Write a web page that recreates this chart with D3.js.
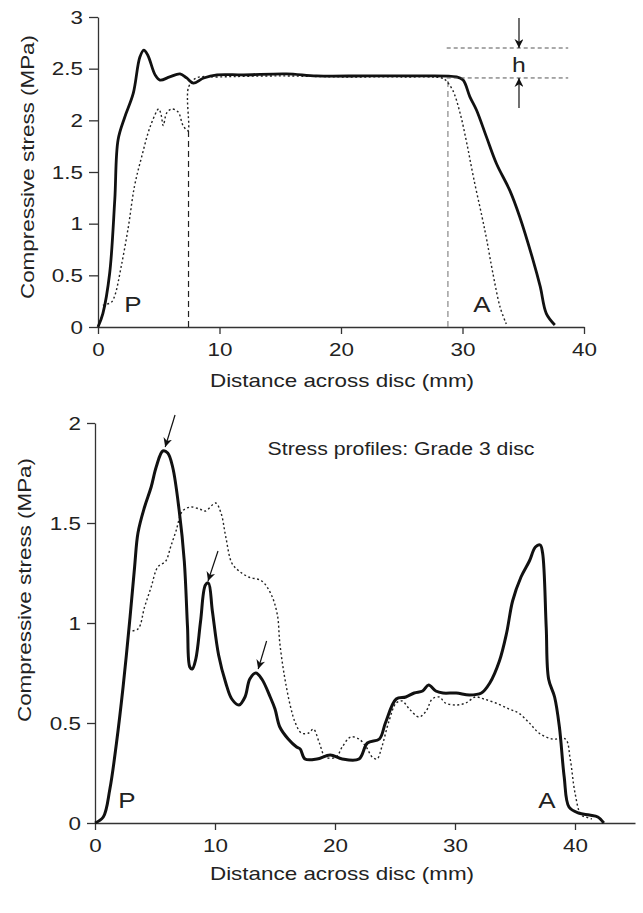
<!DOCTYPE html>
<html>
<head>
<meta charset="utf-8">
<script src="https://cdn.jsdelivr.net/npm/d3@7"></script>
<style>
  body { margin: 0; background: #fff; }
  svg text { font-family: "Liberation Sans", Arial, Helvetica, sans-serif; fill: #222; }
</style>
</head>
<body>
<div id="chart"></div>
<script>
// top panel: solid and dotted stress profiles [distance mm, stress MPa]
const topSolid = [
  [0, 0], [0.4, 0.13], [0.96, 0.52], [1.38, 1.23], [1.65, 1.81], [2.2, 2.03],
  [2.9, 2.26], [3.44, 2.61], [3.77, 2.68], [4.1, 2.63], [4.7, 2.44], [5.1, 2.39],
  [5.9, 2.42], [6.75, 2.45], [7.3, 2.41], [7.85, 2.36], [8.7, 2.41], [9.8, 2.44],
  [12, 2.44], [15.5, 2.45], [18, 2.43], [22, 2.43], [26, 2.43], [29.5, 2.42],
  [30.05, 2.39], [30.6, 2.23], [31.15, 2.1], [31.97, 1.84], [32.8, 1.58],
  [33.9, 1.32], [34.7, 1.07], [35.8, 0.65], [36.4, 0.39], [36.9, 0.13], [37.6, 0.02]
];
const topDotted = [
  [0.4, 0.21], [1.1, 0.24], [1.4, 0.31], [1.9, 0.58], [2.5, 0.97], [3.0, 1.36],
  [3.6, 1.65], [4.3, 1.94], [5.0, 2.11], [5.2, 2.05], [5.37, 1.95], [5.65, 2.07],
  [6.06, 2.11], [6.6, 2.08], [7.0, 1.95], [7.4, 1.9], [7.45, 2.32], [8.1, 2.41],
  [10, 2.42], [15, 2.43], [20, 2.42], [25, 2.42], [28.3, 2.41], [28.6, 2.39],
  [29.2, 2.29], [29.8, 2.07], [30.35, 1.78], [30.9, 1.45], [31.6, 1.07],
  [32.0, 0.84], [32.5, 0.52], [33.1, 0.19], [33.6, 0.03]
];
// vertical dashed markers [distance, height, colour]
const topMarkers = [[7.45, 1.9, "#222"], [28.8, 2.4, "#888"]];
// "h" annotation levels
const hLevels = [2.7, 2.41];
const hSpan = [28.7, 38.7];
const hX = 34.65;

// bottom panel: Grade 3 disc
const botSolid = [
  [0, 0], [0.69, 0.03], [1.24, 0.17], [1.79, 0.4], [2.34, 0.68], [2.89, 1.01],
  [3.3, 1.28], [3.58, 1.45], [4.13, 1.58], [4.68, 1.68], [5.1, 1.78], [5.65, 1.86],
  [6.06, 1.85], [6.47, 1.78], [7.02, 1.56], [7.44, 1.31], [7.71, 0.98], [7.9, 0.78],
  [8.1, 0.77], [8.4, 0.82], [8.8, 1.01], [9.2, 1.19], [9.45, 1.2], [9.78, 1.06],
  [10.3, 0.84], [10.9, 0.7], [11.4, 0.62], [12.0, 0.59], [12.5, 0.63], [12.9, 0.72],
  [13.4, 0.75], [13.9, 0.72], [14.6, 0.63], [15.0, 0.57], [15.4, 0.48], [16.1, 0.42],
  [16.8, 0.38], [17.1, 0.37], [17.5, 0.32], [18.5, 0.32], [19.6, 0.34], [20.6, 0.32],
  [22.0, 0.32], [22.7, 0.4], [23.7, 0.42], [24.2, 0.5], [25.1, 0.62], [25.9, 0.63],
  [26.6, 0.65], [27.3, 0.66], [27.8, 0.69], [28.4, 0.66], [29.0, 0.65], [30.1, 0.65],
  [31.2, 0.64], [32.2, 0.65], [32.9, 0.7], [33.7, 0.81], [34.3, 0.95], [34.8, 1.11],
  [35.5, 1.23], [36.2, 1.31], [36.7, 1.38], [37.1, 1.39], [37.3, 1.35], [37.6, 0.98],
  [37.8, 0.72], [38.3, 0.63], [38.7, 0.48], [39.1, 0.23], [39.5, 0.08], [40.3, 0.05],
  [41.2, 0.04], [41.9, 0.03], [42.4, 0]
];
const botDotted = [
  [2.75, 0.96], [3.58, 0.97], [4.13, 1.08], [4.68, 1.18], [5.23, 1.28], [5.9, 1.31],
  [6.3, 1.38], [6.75, 1.46], [7.3, 1.56], [8.0, 1.58], [8.7, 1.57], [9.2, 1.56],
  [10.05, 1.6], [10.5, 1.55], [10.9, 1.43], [11.4, 1.3], [12.0, 1.26], [12.8, 1.23],
  [13.9, 1.21], [14.7, 1.14], [15.2, 1.04], [15.4, 0.9], [15.8, 0.73], [16.3, 0.58],
  [16.7, 0.5], [17.2, 0.45], [17.8, 0.45], [18.2, 0.47], [18.7, 0.4], [19.2, 0.33],
  [20.1, 0.33], [20.6, 0.38], [21.3, 0.43], [22.0, 0.42], [22.6, 0.38], [23.1, 0.33],
  [23.5, 0.32], [23.9, 0.38], [24.5, 0.51], [25.1, 0.6], [25.6, 0.61], [26.2, 0.57],
  [27.0, 0.53], [27.6, 0.56], [28.1, 0.62], [28.7, 0.63], [29.2, 0.6], [30.1, 0.59],
  [30.9, 0.6], [31.7, 0.63], [32.4, 0.62], [33.4, 0.6], [34.5, 0.57], [35.3, 0.55],
  [36.2, 0.5], [37.0, 0.45], [38.1, 0.42], [39.2, 0.42], [39.6, 0.32], [40.0, 0.15],
  [40.5, 0.04], [40.9, 0.03], [41.4, 0.02]
];
// arrows pointing at the solid-line peaks: [tipX, tipY, tailX, tailY]
const botArrows = [
  [5.85, 1.88, 6.67, 2.04], [9.42, 1.21, 10.25, 1.36], [13.6, 0.77, 14.3, 0.91]
];

const xTicks = [0, 10, 20, 30, 40];
const yTicksTop = [0, 0.5, 1, 1.5, 2, 2.5, 3];
const yTicksBot = [0, 0.5, 1, 1.5, 2];

const svg = d3.select("#chart").append("svg")
  .attr("width", 643).attr("height", 913);

const defs = svg.append("defs");
defs.append("marker")
  .attr("id", "head")
  .attr("viewBox", "0 0 10 10")
  .attr("refX", 10).attr("refY", 5)
  .attr("markerWidth", 9).attr("markerHeight", 9)
  .attr("markerUnits", "userSpaceOnUse")
  .attr("orient", "auto")
  .append("path").attr("d", "M0,0 L10,5 L0,10 L3,5 Z").attr("fill", "#111");

// top scales
const x1 = d3.scaleLinear().domain([0, 40]).range([98, 584]);
const y1 = d3.scaleLinear().domain([0, 3]).range([327, 17]);
// bottom scales
const x2 = d3.scaleLinear().domain([0, 45]).range([95, 635]);
const y2 = d3.scaleLinear().domain([0, 2]).range([823, 423]);

function styleAxis(g) {
  g.select(".domain").attr("stroke", "#333").attr("stroke-width", 1.3);
  g.selectAll(".tick line").attr("stroke", "#333").attr("stroke-width", 1.3);
  g.selectAll(".tick text").attr("fill", "#222")
    .style("font-size", "19px").style("font-family", null);
}

function drawAxes(x, y, yTicks, yTickSize) {
  const gx = svg.append("g")
    .attr("transform", `translate(0,${y(0)})`)
    .call(d3.axisBottom(x).tickValues(xTicks).tickSize(7).tickPadding(9)
      .tickSizeOuter(0));
  styleAxis(gx);
  const gy = svg.append("g")
    .attr("transform", `translate(${x(0)},0)`)
    .call(d3.axisLeft(y).tickValues(yTicks).tickSize(yTickSize).tickPadding(6)
      .tickSizeOuter(0).tickFormat(d3.format("~g")));
  styleAxis(gy);
}

const line1 = d3.line().x(d => x1(d[0])).y(d => y1(d[1])).curve(d3.curveCatmullRom.alpha(0.5));
const line2 = d3.line().x(d => x2(d[0])).y(d => y2(d[1])).curve(d3.curveCatmullRom.alpha(0.5));

// ---- top panel
drawAxes(x1, y1, yTicksTop, 9);

svg.selectAll(".marker")
  .data(topMarkers)
  .enter().append("line")
  .attr("x1", d => x1(d[0])).attr("x2", d => x1(d[0]))
  .attr("y1", y1(0)).attr("y2", d => y1(d[1]))
  .attr("stroke", d => d[2]).attr("stroke-width", 1.2)
  .attr("stroke-dasharray", "6,4");

svg.append("path").datum(topDotted)
  .attr("d", line1).attr("fill", "none").attr("stroke", "#222")
  .attr("stroke-width", 1.4).attr("stroke-dasharray", "2,2.5");
svg.append("path").datum(topSolid)
  .attr("d", line1).attr("fill", "none").attr("stroke", "#111")
  .attr("stroke-width", 2.8).attr("stroke-linejoin", "round");

svg.selectAll(".hline")
  .data(hLevels)
  .enter().append("line")
  .attr("x1", x1(hSpan[0])).attr("x2", x1(hSpan[1]))
  .attr("y1", d => y1(d)).attr("y2", d => y1(d))
  .attr("stroke", "#555").attr("stroke-width", 1).attr("stroke-dasharray", "4,3");
svg.append("line")
  .attr("x1", x1(hX)).attr("x2", x1(hX))
  .attr("y1", y1(hLevels[0]) - 30).attr("y2", y1(hLevels[0]))
  .attr("stroke", "#111").attr("stroke-width", 1.2).attr("marker-end", "url(#head)");
svg.append("line")
  .attr("x1", x1(hX)).attr("x2", x1(hX))
  .attr("y1", y1(hLevels[1]) + 30).attr("y2", y1(hLevels[1]))
  .attr("stroke", "#111").attr("stroke-width", 1.2).attr("marker-end", "url(#head)");
svg.append("text").attr("x", x1(hX)).attr("y", 72)
  .attr("text-anchor", "middle").style("font-size", "21px").text("h");

svg.append("text").attr("x", 133).attr("y", 312)
  .attr("text-anchor", "middle").style("font-size", "22px").text("P");
svg.append("text").attr("x", 482).attr("y", 312)
  .attr("text-anchor", "middle").style("font-size", "22px").text("A");

svg.append("text").attr("transform", "translate(34,167) rotate(-90)")
  .attr("text-anchor", "middle").style("font-size", "19px")
  .text("Compressive stress (MPa)");
svg.append("text").attr("x", 342).attr("y", 387)
  .attr("text-anchor", "middle").style("font-size", "19px")
  .text("Distance across disc (mm)");

// ---- bottom panel
drawAxes(x2, y2, yTicksBot, 8);

svg.append("path").datum(botDotted)
  .attr("d", line2).attr("fill", "none").attr("stroke", "#222")
  .attr("stroke-width", 1.4).attr("stroke-dasharray", "2,2.5");
svg.append("path").datum(botSolid)
  .attr("d", line2).attr("fill", "none").attr("stroke", "#111")
  .attr("stroke-width", 3).attr("stroke-linejoin", "round");

svg.selectAll(".arrow")
  .data(botArrows)
  .enter().append("line")
  .attr("x1", d => x2(d[2])).attr("y1", d => y2(d[3]))
  .attr("x2", d => x2(d[0])).attr("y2", d => y2(d[1]))
  .attr("stroke", "#111").attr("stroke-width", 1.2).attr("marker-end", "url(#head)");

svg.append("text").attr("x", 401).attr("y", 455)
  .attr("text-anchor", "middle").style("font-size", "18px")
  .text("Stress profiles: Grade 3 disc");

svg.append("text").attr("x", 127).attr("y", 808)
  .attr("text-anchor", "middle").style("font-size", "22px").text("P");
svg.append("text").attr("x", 547).attr("y", 808)
  .attr("text-anchor", "middle").style("font-size", "22px").text("A");

svg.append("text").attr("transform", "translate(31,590) rotate(-90)")
  .attr("text-anchor", "middle").style("font-size", "19px")
  .text("Compressive stress (MPa)");
svg.append("text").attr("x", 342).attr("y", 880)
  .attr("text-anchor", "middle").style("font-size", "19px")
  .text("Distance across disc (mm)");

// the original lettering is a wide grotesque, stretch Liberation Sans to match
svg.selectAll("text").each(function () {
  const t = d3.select(this);
  const len = this.getComputedTextLength();
  if (len > 0) t.attr("textLength", len * 1.18).attr("lengthAdjust", "spacingAndGlyphs");
});
</script>
</body>
</html>
